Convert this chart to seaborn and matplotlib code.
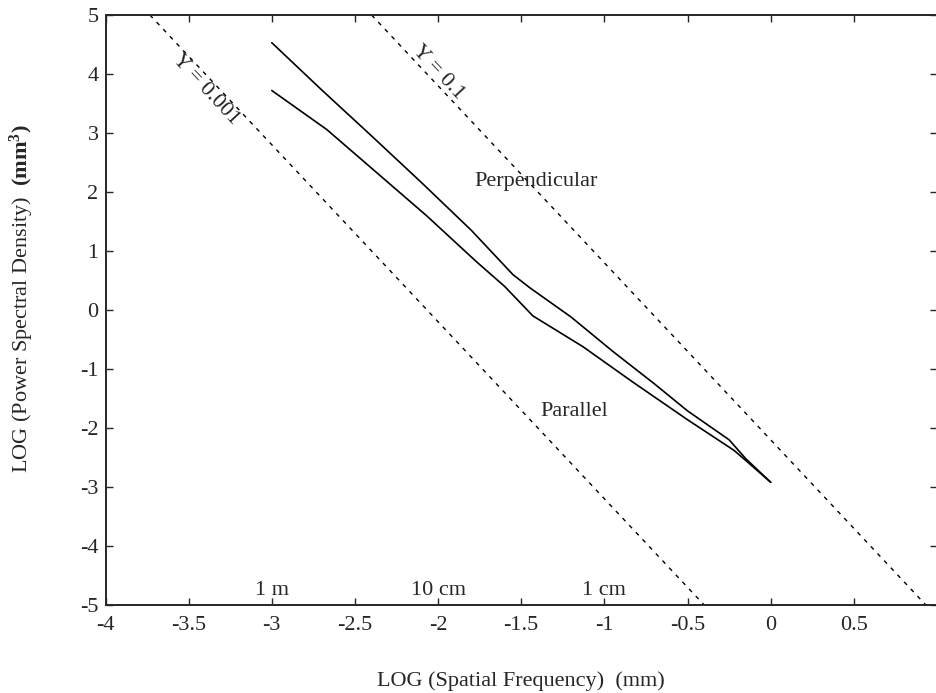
import matplotlib
matplotlib.use("Agg")
import matplotlib.pyplot as plt
import seaborn as sns
import pandas as pd

# power spectra (log10 spatial frequency, log10 PSD)
perp_x = [-3.0, -2.7, -2.4, -2.1, -1.8, -1.55, -1.45, -1.2, -0.95, -0.7, -0.5, -0.25, -0.15, 0.0]
perp_y = [4.53, 3.73, 2.95, 2.16, 1.35, 0.6, 0.38, -0.12, -0.7, -1.25, -1.71, -2.2, -2.52, -2.92]
par_x = [-3.0, -2.67, -2.37, -2.07, -1.77, -1.6, -1.43, -1.13, -0.83, -0.5, -0.22, -0.15, 0.0]
par_y = [3.72, 3.06, 2.33, 1.6, 0.82, 0.4, -0.1, -0.62, -1.22, -1.86, -2.38, -2.55, -2.92]

# reference roughness lines
gamma_001_x = [-3.733, -0.4]
gamma_001_y = [5, -5]
gamma_01_x = [-2.4, 0.933]
gamma_01_y = [5, -5]

scale_labels = ["1 m", "10 cm", "1 cm"]
scale_x = [-3, -2, -1]

x_ticks = [-4, -3.5, -3, -2.5, -2, -1.5, -1, -0.5, 0, 0.5]
x_ticklabels = ["-4", "-3.5", "-3", "-2.5", "-2", "-1.5", "-1", "-0.5", "0", "0.5"]
y_ticks = list(range(-5, 6))

sns.set_style("ticks")
plt.rcParams["font.family"] = ["Liberation Serif", "DejaVu Serif"]
plt.rcParams["mathtext.fontset"] = "custom"
plt.rcParams["mathtext.rm"] = "Liberation Serif"
plt.rcParams["mathtext.bf"] = "Liberation Serif:bold"
plt.rcParams["axes.unicode_minus"] = False
plt.rcParams["xtick.direction"] = "in"
plt.rcParams["ytick.direction"] = "in"

fig = plt.figure(figsize=(9.36, 6.93), dpi=100)
ax = fig.add_axes([105.5 / 936, 1 - 605 / 693, (937 - 105.5) / 936, 590 / 693])

perp = pd.DataFrame({"x": perp_x, "y": perp_y})
par = pd.DataFrame({"x": par_x, "y": par_y})
sns.lineplot(data=perp, x="x", y="y", sort=False, color="black", lw=1.2, ax=ax)
sns.lineplot(data=par, x="x", y="y", sort=False, color="black", lw=1.2, ax=ax)

ax.plot(gamma_001_x, gamma_001_y, color="black", lw=1.0, ls=(0, (3, 4)))
ax.plot(gamma_01_x, gamma_01_y, color="black", lw=1.0, ls=(0, (3, 4)))

ax.text(-3.40, 3.73, "Y = 0.001", fontsize=16, rotation=-47,
        rotation_mode="anchor", ha="center", va="center")
ax.text(-2.0, 4.03, "Y = 0.1", fontsize=16, rotation=-47,
        rotation_mode="anchor", ha="center", va="center")
ax.text(-1.78, 2.175, "Perpendicular", fontsize=16, ha="left", va="center")
ax.text(-1.387, -1.72, "Parallel", fontsize=16, ha="left", va="center")
for lab, xv in zip(scale_labels, scale_x):
    ax.text(xv, -4.75, lab, fontsize=16, ha="center", va="center")

ax.set_xlim(-4, 1)
ax.set_ylim(-5, 5)
ax.set_xticks(x_ticks)
ax.set_xticklabels(x_ticklabels)
ax.set_yticks(y_ticks)
ax.tick_params(axis="both", labelsize=16, length=5, width=1.0,
               top=True, right=True)
ax.tick_params(axis="x", pad=8)
ax.tick_params(axis="y", pad=5)
for sp in ax.spines.values():
    sp.set_linewidth(1.4)
    sp.set_visible(True)

ax.set_xlabel("LOG (Spatial Frequency)  (mm)", fontsize=16)
ax.set_ylabel(r"LOG (Power Spectral Density)  $\mathbf{(mm^3)}$", fontsize=16)
ax.xaxis.set_label_coords(0.5, -(671.7 - 605) / 590)
ax.yaxis.set_label_coords(-(105.5 - 36) / 831.5, 0.52)

fig.savefig("out.png", dpi=100)
